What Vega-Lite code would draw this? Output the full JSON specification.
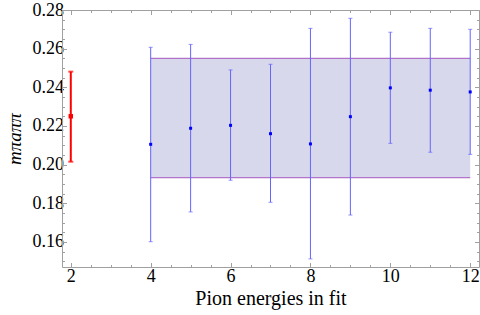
{
  "$schema": "https://vega.github.io/schema/vega-lite/v6.json",
  "width": 417,
  "height": 257,
  "autosize": {"type": "none"},
  "padding": {"left": 62, "top": 10, "right": 1, "bottom": 48},
  "background": "white",
  "config": {
    "view": {"stroke": null},
    "axis": {
      "labelFont": "Liberation Serif",
      "titleFont": "Liberation Serif",
      "labelColor": "black",
      "titleColor": "black",
      "domainColor": "#a0a0a0",
      "tickColor": "#a0a0a0",
      "grid": false,
      "titleFontWeight": "normal"
    }
  },
  "datasets": {
    "fit": [
      {"n": 4, "a": 0.2105, "lo": 0.1601, "hi": 0.2607},
      {"n": 5, "a": 0.2188, "lo": 0.1755, "hi": 0.2622},
      {"n": 6, "a": 0.2203, "lo": 0.1919, "hi": 0.249},
      {"n": 7, "a": 0.216, "lo": 0.1805, "hi": 0.2519},
      {"n": 8, "a": 0.2107, "lo": 0.1512, "hi": 0.2705},
      {"n": 9, "a": 0.2248, "lo": 0.1739, "hi": 0.2757},
      {"n": 10, "a": 0.2397, "lo": 0.211, "hi": 0.2685},
      {"n": 11, "a": 0.2385, "lo": 0.2064, "hi": 0.2705},
      {"n": 12, "a": 0.2376, "lo": 0.2053, "hi": 0.27}
    ],
    "band": [{"x1": 4, "x2": 12, "lo": 0.1932, "hi": 0.255}],
    "edges": [
      {"x1": 4, "x2": 12, "y": 0.255},
      {"x1": 4, "x2": 12, "y": 0.1932}
    ],
    "ref": [{"n": 2, "a": 0.225, "lo": 0.2015, "hi": 0.2481}]
  },
  "resolve": {"axis": {"x": "independent", "y": "independent"}},
  "layer": [
    {
      "data": {"name": "band"},
      "mark": {"type": "rect", "fill": "#d8d8ec"},
      "encoding": {
        "x": {"field": "x1", "type": "quantitative",
          "scale": {"domain": [1.78, 12.22], "nice": false, "zero": false},
          "axis": {"orient": "bottom", "values": [2, 4, 6, 8, 10, 12], "tickSize": -4.5, "labelFontSize": 18, "labelPadding": 5,
            "title": "Pion energies in fit", "titleFontSize": 20, "titlePadding": 3, "labelFlush": false}},
        "x2": {"field": "x2"},
        "y": {"field": "lo", "type": "quantitative",
          "scale": {"domain": [0.147, 0.28], "nice": false, "zero": false},
          "axis": {"orient": "left", "values": [0.16, 0.18, 0.2, 0.22, 0.24, 0.26, 0.28], "format": ".2f", "tickSize": -4.5,
            "labelFontSize": 18, "labelPadding": 3, "labelFlush": false,
            "title": "mπaππ", "titleFontSize": 19, "titleFontStyle": "italic", "titlePadding": 8}},
        "y2": {"field": "hi"}
      }
    },
    {
      "data": {"name": "edges"},
      "mark": {"type": "rule", "stroke": "#a655c0", "strokeWidth": 1},
      "encoding": {
        "x": {"field": "x1", "type": "quantitative",
          "scale": {"domain": [1.78, 12.22], "nice": false, "zero": false},
          "axis": {"orient": "bottom", "values": [2, 2.5, 3, 3.5, 4, 4.5, 5, 5.5, 6, 6.5, 7, 7.5, 8, 8.5, 9, 9.5, 10, 10.5, 11, 11.5, 12], "tickSize": -2.5, "labels": false, "domain": false, "title": null}},
        "x2": {"field": "x2"},
        "y": {"field": "y", "type": "quantitative",
          "scale": {"domain": [0.147, 0.28], "nice": false, "zero": false},
          "axis": {"orient": "left", "values": [0.15, 0.155, 0.16, 0.165, 0.17, 0.175, 0.18, 0.185, 0.19, 0.195, 0.2, 0.205, 0.21, 0.215, 0.22, 0.225, 0.23, 0.235, 0.24, 0.245, 0.25, 0.255, 0.26, 0.265, 0.27, 0.275, 0.28], "tickSize": -2.5, "labels": false, "domain": false, "title": null}}
      }
    },
    {
      "data": {"name": "fit"},
      "mark": {"type": "rule", "stroke": "#6464ff", "strokeWidth": 1},
      "encoding": {
        "x": {"field": "n", "type": "quantitative",
          "scale": {"domain": [1.78, 12.22], "nice": false, "zero": false},
          "axis": {"orient": "top", "values": [2, 4, 6, 8, 10, 12], "tickSize": -4.5, "labels": false, "title": null}},
        "y": {"field": "lo", "type": "quantitative",
          "scale": {"domain": [0.147, 0.28], "nice": false, "zero": false},
          "axis": {"orient": "right", "values": [0.16, 0.18, 0.2, 0.22, 0.24, 0.26, 0.28], "tickSize": -4.5, "labels": false, "title": null}},
        "y2": {"field": "hi"}
      }
    },
    {
      "data": {"name": "fit"},
      "mark": {"type": "tick", "orient": "horizontal", "size": 4, "thickness": 1, "color": "#6464ff"},
      "encoding": {
        "x": {"field": "n", "type": "quantitative",
          "scale": {"domain": [1.78, 12.22], "nice": false, "zero": false},
          "axis": {"orient": "top", "values": [2, 2.5, 3, 3.5, 4, 4.5, 5, 5.5, 6, 6.5, 7, 7.5, 8, 8.5, 9, 9.5, 10, 10.5, 11, 11.5, 12], "tickSize": -2.5, "labels": false, "domain": false, "title": null}},
        "y": {"field": "hi", "type": "quantitative",
          "scale": {"domain": [0.147, 0.28], "nice": false, "zero": false},
          "axis": {"orient": "right", "values": [0.15, 0.155, 0.16, 0.165, 0.17, 0.175, 0.18, 0.185, 0.19, 0.195, 0.2, 0.205, 0.21, 0.215, 0.22, 0.225, 0.23, 0.235, 0.24, 0.245, 0.25, 0.255, 0.26, 0.265, 0.27, 0.275, 0.28], "tickSize": -2.5, "labels": false, "domain": false, "title": null}}
      }
    },
    {
      "data": {"name": "fit"},
      "mark": {"type": "tick", "orient": "horizontal", "size": 4, "thickness": 1, "color": "#6464ff"},
      "encoding": {
        "x": {"field": "n", "type": "quantitative", "scale": {"domain": [1.78, 12.22], "nice": false, "zero": false}, "axis": null},
        "y": {"field": "lo", "type": "quantitative", "scale": {"domain": [0.147, 0.28], "nice": false, "zero": false}, "axis": null}
      }
    },
    {
      "data": {"name": "fit"},
      "mark": {"type": "square", "size": 9, "color": "#0000ff", "opacity": 1},
      "encoding": {
        "x": {"field": "n", "type": "quantitative", "scale": {"domain": [1.78, 12.22], "nice": false, "zero": false}, "axis": null},
        "y": {"field": "a", "type": "quantitative", "scale": {"domain": [0.147, 0.28], "nice": false, "zero": false}, "axis": null}
      }
    },
    {
      "data": {"name": "ref"},
      "mark": {"type": "rule", "stroke": "#ff0000", "strokeWidth": 2},
      "encoding": {
        "x": {"field": "n", "type": "quantitative", "scale": {"domain": [1.78, 12.22], "nice": false, "zero": false}, "axis": null},
        "y": {"field": "lo", "type": "quantitative", "scale": {"domain": [0.147, 0.28], "nice": false, "zero": false}, "axis": null},
        "y2": {"field": "hi"}
      }
    },
    {
      "data": {"name": "ref"},
      "mark": {"type": "tick", "orient": "horizontal", "size": 5, "thickness": 2, "color": "#ff0000"},
      "encoding": {
        "x": {"field": "n", "type": "quantitative", "scale": {"domain": [1.78, 12.22], "nice": false, "zero": false}, "axis": null},
        "y": {"field": "lo", "type": "quantitative", "scale": {"domain": [0.147, 0.28], "nice": false, "zero": false}, "axis": null}
      }
    },
    {
      "data": {"name": "ref"},
      "mark": {"type": "tick", "orient": "horizontal", "size": 5, "thickness": 2, "color": "#ff0000"},
      "encoding": {
        "x": {"field": "n", "type": "quantitative", "scale": {"domain": [1.78, 12.22], "nice": false, "zero": false}, "axis": null},
        "y": {"field": "hi", "type": "quantitative", "scale": {"domain": [0.147, 0.28], "nice": false, "zero": false}, "axis": null}
      }
    },
    {
      "data": {"name": "ref"},
      "mark": {"type": "square", "size": 20, "color": "#ff0000", "opacity": 1},
      "encoding": {
        "x": {"field": "n", "type": "quantitative", "scale": {"domain": [1.78, 12.22], "nice": false, "zero": false}, "axis": null},
        "y": {"field": "a", "type": "quantitative", "scale": {"domain": [0.147, 0.28], "nice": false, "zero": false}, "axis": null}
      }
    }
  ]
}
